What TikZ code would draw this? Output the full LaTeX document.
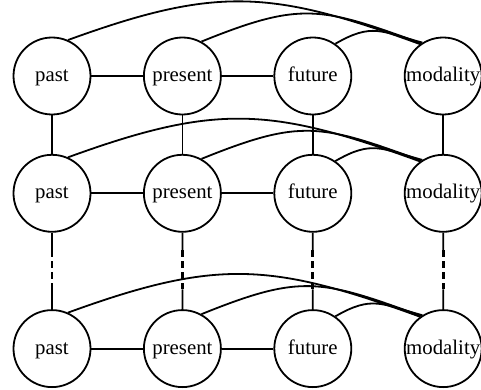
\documentclass[tikz,border=0pt]{standalone}
\usepackage{fontspec}
\setmainfont{Liberation Serif}
\usetikzlibrary{positioning}
\usetikzlibrary{calc}

\begin{document}
\begin{tikzpicture}[
  state/.style={draw, circle, line width=0.9pt, minimum size=38.5pt, inner sep=0pt, text height=1.5ex, text depth=.3ex, font=\fontsize{10.4}{12}\selectfont},
  link/.style={line width=0.9pt},
  gap/.style={line width=1.4pt, dash pattern=on 3.5pt off 2pt},
  node distance=25.8pt
]
  \useasboundingbox (0,0) rectangle (240.5pt,-195pt);

  % time step 1
  \node[state] (p1) at (26pt,-38pt) {past};
  \node[state, right= of p1] (r1) {present};
  \node[state, right= of r1] (f1) {future};
  \node[state, right= of f1] (m1) {modality};

  % time step 2
  \node[state, below=19.25pt of p1] (p2) {past};
  \node[state, right= of p2] (r2) {present};
  \node[state, right= of r2] (f2) {future};
  \node[state, right= of f2] (m2) {modality};

  % time step n
  \node[state, below=38.25pt of p2] (p3) {past};
  \node[state, right= of p3] (r3) {present};
  \node[state, right= of r3] (f3) {future};
  \node[state, right= of f3] (m3) {modality};

  % links inside a step
  \draw[link] (p1) -- (r1);
  \draw[link] (r1) -- (f1);
  \draw[link] (p1.66) to[out=20, in=160, looseness=1.15] (m1.126);
  \draw[link] (r1.61) to[out=22, in=160, looseness=1.25] (m1.124);
  \draw[link] (f1.55) to[out=30, in=165, looseness=1.25] (m1.122);

  \draw[link] (p2) -- (r2);
  \draw[link] (r2) -- (f2);
  \draw[link] (p2.66) to[out=20, in=160, looseness=1.15] (m2.126);
  \draw[link] (r2.61) to[out=22, in=160, looseness=1.25] (m2.124);
  \draw[link] (f2.55) to[out=30, in=165, looseness=1.25] (m2.122);

  \draw[link] (p3) -- (r3);
  \draw[link] (r3) -- (f3);
  \draw[link] (p3.66) to[out=20, in=160, looseness=1.15] (m3.126);
  \draw[link] (r3.61) to[out=22, in=160, looseness=1.25] (m3.124);
  \draw[link] (f3.55) to[out=30, in=165, looseness=1.25] (m3.122);

  % links between steps
  \draw[link] (p1) -- (p2);
  \draw[link] (r1) -- (r2);
  \draw[link] (f1) -- (f2);
  \draw[link] (m1) -- (m2);

  \coordinate (pa) at ($(p2.south)!0.23!(p3.north)$);
  \coordinate (pb) at ($(p2.south)!0.74!(p3.north)$);
  \coordinate (ra) at ($(r2.south)!0.23!(r3.north)$);
  \coordinate (rb) at ($(r2.south)!0.74!(r3.north)$);
  \coordinate (fa) at ($(f2.south)!0.23!(f3.north)$);
  \coordinate (fb) at ($(f2.south)!0.74!(f3.north)$);
  \coordinate (ma) at ($(m2.south)!0.23!(m3.north)$);
  \coordinate (mb) at ($(m2.south)!0.74!(m3.north)$);

  \draw[link] (p2) -- (pa); \draw[gap] (pa) -- (pb); \draw[link] (pb) -- (p3);
  \draw[link] (r2) -- (ra); \draw[gap] (ra) -- (rb); \draw[link] (rb) -- (r3);
  \draw[link] (f2) -- (fa); \draw[gap] (fa) -- (fb); \draw[link] (fb) -- (f3);
  \draw[link] (m2) -- (ma); \draw[gap] (ma) -- (mb); \draw[link] (mb) -- (m3);
\end{tikzpicture}
\end{document}
